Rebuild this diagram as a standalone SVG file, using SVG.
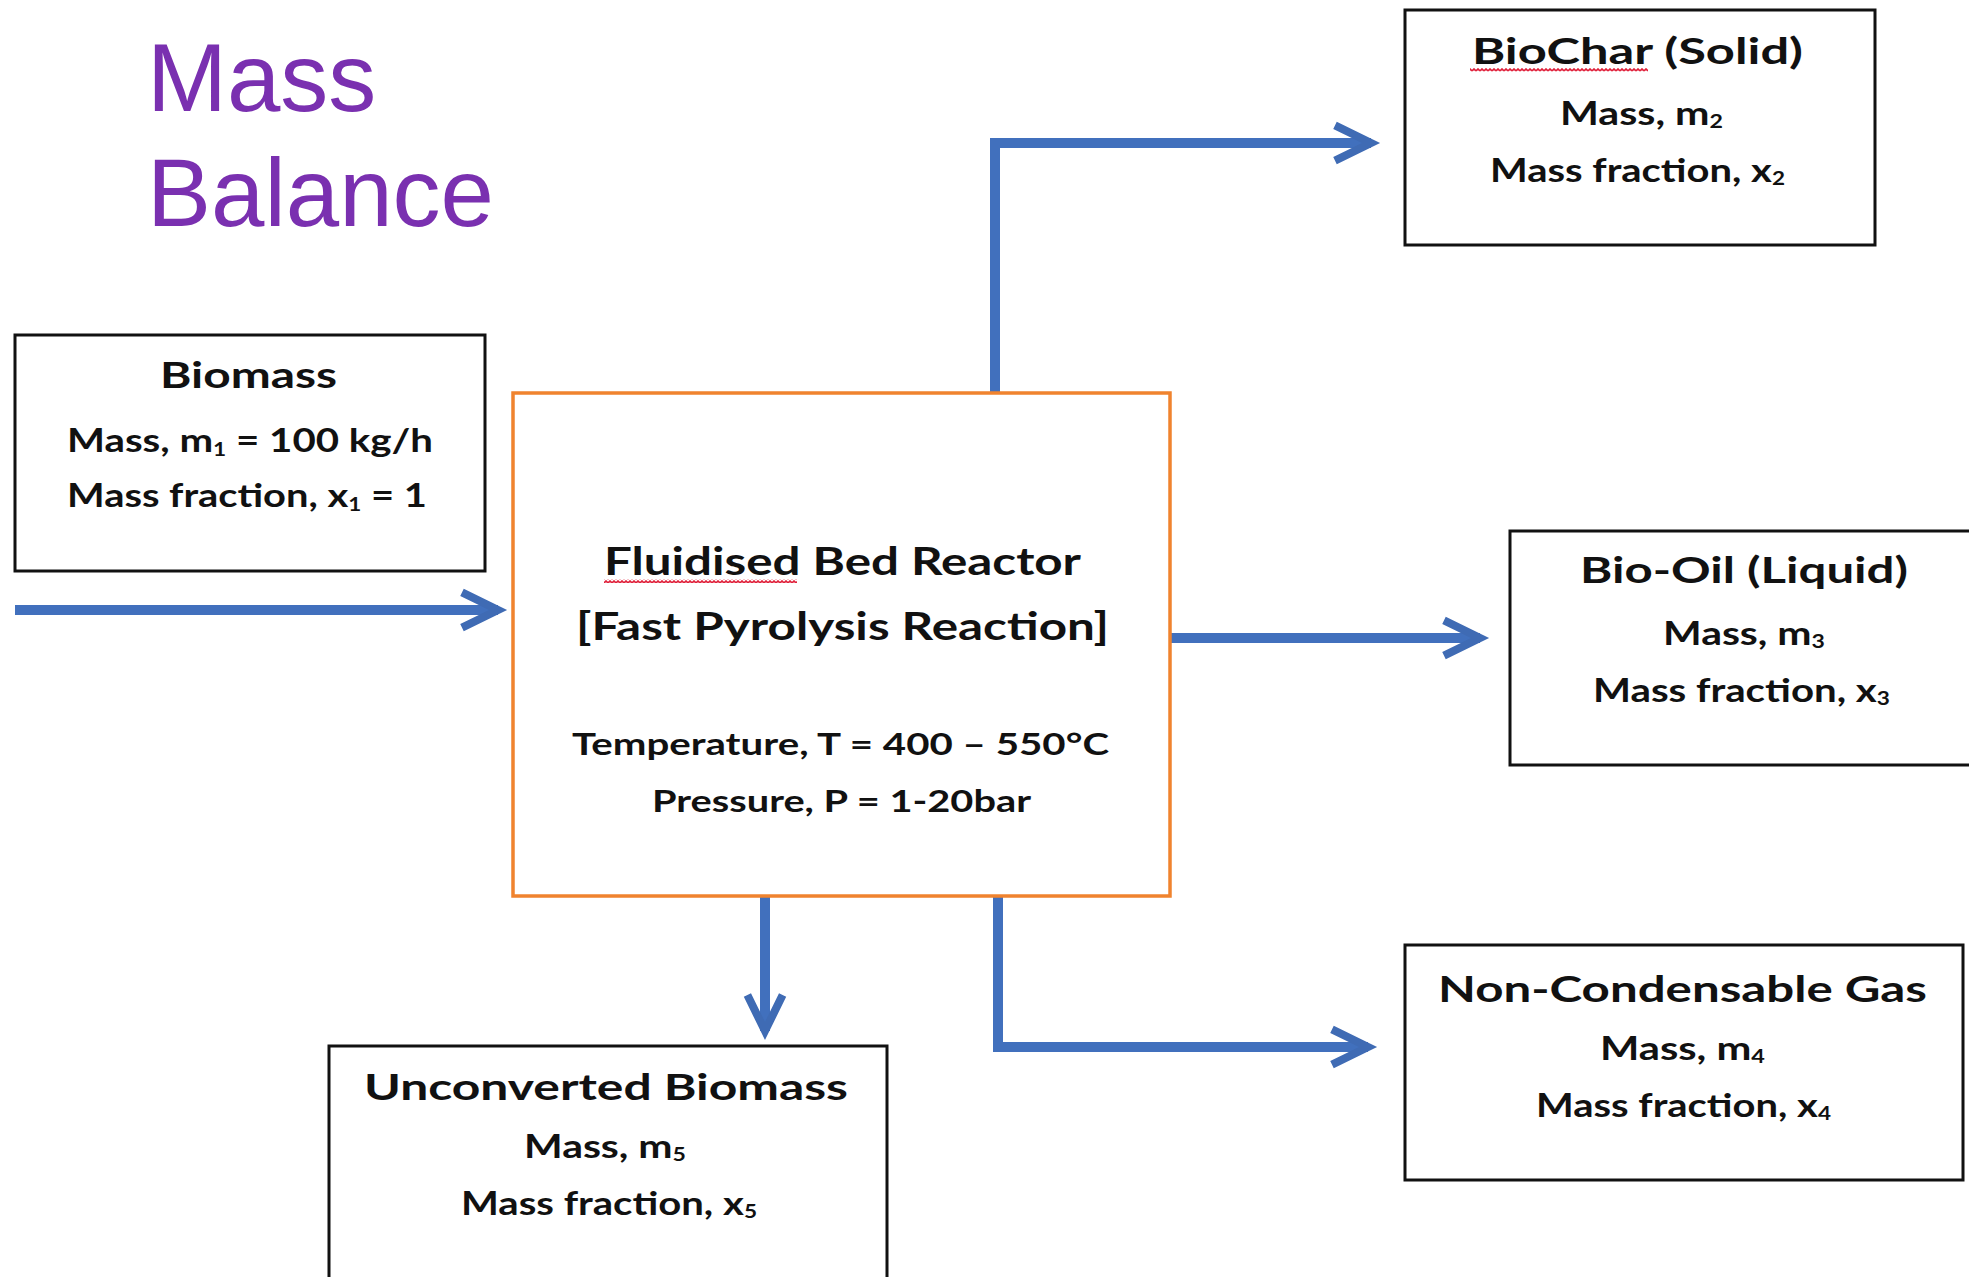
<svg xmlns="http://www.w3.org/2000/svg" width="1969" height="1277" viewBox="0 0 1969 1277">
<defs>
<style>
.box{fill:#ffffff;stroke:#111111;stroke-width:3}
.reactor{fill:#ffffff;stroke:#F0832E;stroke-width:3.5}
.t{font-family:Lato,"Open Sans","Liberation Sans",sans-serif;font-weight:700;fill:#111111}
.h{font-size:37px}
.s{font-size:32px}
.r{font-size:39px}
.p{font-size:31px}
.sub{font-size:18px}
.title{font-family:"Liberation Sans",Arial,sans-serif;font-size:96px;fill:#7A30B0}
.conn{fill:none;stroke:#4170BD;stroke-width:10;stroke-linejoin:miter;stroke-linecap:butt}
</style>
<marker id="chev" markerUnits="userSpaceOnUse" markerWidth="80" markerHeight="80" refX="0" refY="0" orient="auto" viewBox="-60 -40 100 80" overflow="visible">
<path d="M-45,-22 L0,0 L-45,22" fill="none" stroke="#3F6BB4" stroke-width="10" stroke-linejoin="miter" stroke-miterlimit="6"/>
</marker>
<pattern id="squig" patternUnits="userSpaceOnUse" x="0" y="0" width="4" height="4">
<path d="M0,3 L2,1 L4,3" fill="none" stroke="#E0203A" stroke-width="1.6"/>
</pattern>
</defs>
<rect width="1969" height="1277" fill="#ffffff"/>

<g id="title">
<text class="title" x="147" y="111">Mass</text>
<text class="title" x="147" y="226">Balance</text>
</g>

<g id="connectors">
<path class="conn" d="M15,610 H498" marker-end="url(#chev)"/>
<path class="conn" d="M995,393 V143 H1371" marker-end="url(#chev)"/>
<path class="conn" d="M1170,638 H1480" marker-end="url(#chev)"/>
<path class="conn" d="M765,897 V1031" marker-end="url(#chev)"/>
<path class="conn" d="M998,897 V1047 H1368" marker-end="url(#chev)"/>
</g>

<g id="biomass">
<rect class="box" x="15" y="335" width="470" height="236"/>
<text class="t h" x="160" y="388" textLength="177" lengthAdjust="spacingAndGlyphs">Biomass</text>
<text class="t s" x="67" y="452" textLength="366" lengthAdjust="spacingAndGlyphs">Mass, m<tspan class="sub" dy="4">1</tspan><tspan dy="-4"> = 100 kg/h</tspan></text>
<text class="t s" x="67" y="507" textLength="360" lengthAdjust="spacingAndGlyphs">Mass fraction, x<tspan class="sub" dy="4">1</tspan><tspan dy="-4"> = 1</tspan></text>
</g>

<g id="reactor">
<rect class="reactor" x="513" y="393" width="657" height="503"/>
<text class="t r" x="604" y="575" textLength="477" lengthAdjust="spacingAndGlyphs">Fluidised Bed Reactor</text>
<rect x="604" y="579" width="193" height="4" fill="url(#squig)"/>
<text class="t r" x="576" y="640" textLength="533" lengthAdjust="spacingAndGlyphs">[Fast Pyrolysis Reaction]</text>
<text class="t p" x="572" y="755" textLength="537" lengthAdjust="spacingAndGlyphs">Temperature, T = 400 – 550°C</text>
<text class="t p" x="652" y="812" textLength="379" lengthAdjust="spacingAndGlyphs">Pressure, P = 1-20bar</text>
</g>

<g id="biochar">
<rect class="box" x="1405" y="10" width="470" height="235"/>
<text class="t h" x="1472" y="64" textLength="331" lengthAdjust="spacingAndGlyphs">BioChar (Solid)</text>
<rect x="1470" y="68" width="178" height="4" fill="url(#squig)"/>
<text class="t s" x="1560" y="125" textLength="163" lengthAdjust="spacingAndGlyphs">Mass, m<tspan class="sub" dy="3">2</tspan></text>
<text class="t s" x="1490" y="182" textLength="295" lengthAdjust="spacingAndGlyphs">Mass fraction, x<tspan class="sub" dy="3">2</tspan></text>
</g>

<g id="biooil">
<rect class="box" x="1510" y="531" width="480" height="234"/>
<text class="t h" x="1580" y="583" textLength="328" lengthAdjust="spacingAndGlyphs">Bio-Oil (Liquid)</text>
<text class="t s" x="1663" y="645" textLength="162" lengthAdjust="spacingAndGlyphs">Mass, m<tspan class="sub" dy="3">3</tspan></text>
<text class="t s" x="1593" y="702" textLength="297" lengthAdjust="spacingAndGlyphs">Mass fraction, x<tspan class="sub" dy="3">3</tspan></text>
</g>

<g id="noncondensable">
<rect class="box" x="1405" y="945" width="558" height="235"/>
<text class="t h" x="1438" y="1002" textLength="489" lengthAdjust="spacingAndGlyphs">Non-Condensable Gas</text>
<text class="t s" x="1600" y="1060" textLength="165" lengthAdjust="spacingAndGlyphs">Mass, m<tspan class="sub" dy="3">4</tspan></text>
<text class="t s" x="1536" y="1117" textLength="295" lengthAdjust="spacingAndGlyphs">Mass fraction, x<tspan class="sub" dy="3">4</tspan></text>
</g>

<g id="unconverted">
<rect class="box" x="329" y="1046" width="558" height="260"/>
<text class="t h" x="364" y="1100" textLength="484" lengthAdjust="spacingAndGlyphs">Unconverted Biomass</text>
<text class="t s" x="524" y="1158" textLength="162" lengthAdjust="spacingAndGlyphs">Mass, m<tspan class="sub" dy="3">5</tspan></text>
<text class="t s" x="461" y="1215" textLength="296" lengthAdjust="spacingAndGlyphs">Mass fraction, x<tspan class="sub" dy="3">5</tspan></text>
</g>
</svg>
